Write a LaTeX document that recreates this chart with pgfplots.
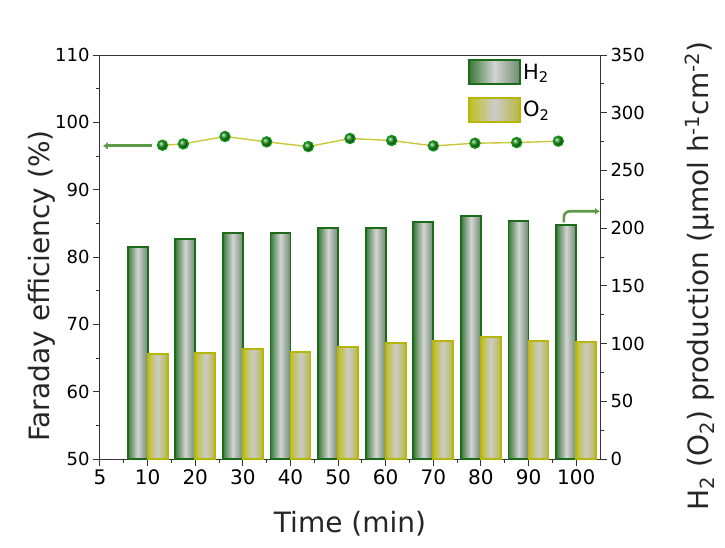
\documentclass[border=0pt]{standalone}
\usepackage{fontspec}
\setmainfont{DejaVu Sans}
\usepackage{pgfplots}
\usepackage{pgfplotstable}
\pgfplotsset{compat=1.18}
\usetikzlibrary{arrows.meta}

\definecolor{hedge}{HTML}{1B6B1B}
\definecolor{hleft}{HTML}{3A7A3A}
\definecolor{hmid}{HTML}{D4D4D4}
\definecolor{hright}{HTML}{6E8A6E}
\definecolor{oedge}{HTML}{B5B50C}
\definecolor{oleft}{HTML}{C0C020}
\definecolor{omid}{HTML}{CBCBCB}
\definecolor{oright}{HTML}{B8B840}
\definecolor{feline}{HTML}{C8C83A}
\definecolor{ballgreen}{HTML}{17901A}
\definecolor{arrowgreen}{HTML}{5E9A4A}
\definecolor{axisgray}{HTML}{333333}

% Faraday efficiency (%) against time (min)
\pgfplotstableread{
t   FE
5   96.6
10  96.8
20  97.9
30  97.1
40  96.4
50  97.6
60  97.3
70  96.5
80  96.9
90  97.0
100 97.2
}\fetable

\pgfplotsset{
  /pgf/number format/assume math mode=true,
  common/.style={
    scale only axis, width=500pt, height=404pt,
    tick align=outside,
    major tick length=7pt, minor tick length=4pt,
    axis line style={line width=1pt, axisgray},
    every tick/.style={line width=1pt, axisgray},
    label style={font=\fontsize{28}{31}\selectfont, text=black!85},
  },
  boxlegend/.style={
    legend image code/.code={\draw[##1] (0pt,-12pt) rectangle (51pt,12pt);}
  },
  % each bar is its own plot so that every bar carries its own shading
  hbar/.style={ybar, bar width=20pt, bar shift=-10pt, draw=hedge, line width=1.8pt,
    left color=hleft, right color=hright, middle color=hmid},
  obar/.style={ybar, bar width=20pt, bar shift=10pt, draw=oedge, line width=1.8pt,
    left color=oleft, right color=oright, middle color=omid},
}

\begin{document}
\begin{tikzpicture}
% Faraday efficiency, left axis
\begin{axis}[common, name=fe,
  xmin=-10, xmax=110, ymin=50, ymax=110,
  axis y line*=left, axis x line*=top,
  xtick=\empty,
  ytick={50,60,...,110}, minor y tick num=1,
  yticklabel style={font=\fontsize{18}{20}\selectfont},
  ylabel={Faraday efficiency (\%)},
  ylabel style={yshift=-7pt, xshift=-29pt},
]
\addplot[feline, line width=1.4pt, mark=ball, mark size=5pt,
  mark options={ball color=ballgreen, color=ballgreen}] table[x=t, y=FE] {\fetable};
\draw[arrowgreen, line width=3pt, -{Latex[length=5pt,width=8pt]}]
  (axis cs:2.6,96.5) -- (axis cs:-9.3,96.5);
\end{axis}
% H2 / O2 production, right axis; x positions 1..10 stand for 10..100 min
\begin{axis}[common, name=prod,
  xmin=0, xmax=10.5, ymin=0, ymax=350,
  axis y line*=right, axis x line*=bottom,
  xtick={0,...,10}, xticklabels={5,10,20,30,40,50,60,70,80,90,100},
  minor x tick num=1,
  ytick={0,50,...,350}, minor y tick num=1,
  xticklabel style={font=\fontsize{20}{22}\selectfont},
  yticklabel style={font=\fontsize{18}{20}\selectfont},
  xlabel={Time (min)},
  xlabel style={yshift=-20pt},
  ylabel={H\textsubscript{2} (O\textsubscript{2}) production (μmol h\textsuperscript{-1}cm\textsuperscript{-2})},
  ylabel style={yshift=-33pt, xshift=-19pt},
  legend style={at={(0.73,0.995)}, anchor=north west, draw=none, fill=none,
    font=\fontsize{21}{24}\selectfont, row sep=12pt,
    /tikz/every even column/.append style={column sep=4pt}},
  legend cell align=left,
]
\addplot[hbar, boxlegend] coordinates {(1,184.0)};
\addlegendentry{H\textsubscript{2}}
\addplot[obar, boxlegend] coordinates {(1,90.7)};
\addlegendentry{O\textsubscript{2}}
\addplot[hbar, forget plot] coordinates {(2,190.5)};
\addplot[hbar, forget plot] coordinates {(3,195.5)};
\addplot[hbar, forget plot] coordinates {(4,195.8)};
\addplot[hbar, forget plot] coordinates {(5,199.8)};
\addplot[hbar, forget plot] coordinates {(6,200.4)};
\addplot[hbar, forget plot] coordinates {(7,205.6)};
\addplot[hbar, forget plot] coordinates {(8,210.5)};
\addplot[hbar, forget plot] coordinates {(9,206.5)};
\addplot[hbar, forget plot] coordinates {(10,203.0)};
\addplot[obar, forget plot] coordinates {(2,91.5)};
\addplot[obar, forget plot] coordinates {(3,95.0)};
\addplot[obar, forget plot] coordinates {(4,93.0)};
\addplot[obar, forget plot] coordinates {(5,96.8)};
\addplot[obar, forget plot] coordinates {(6,100.2)};
\addplot[obar, forget plot] coordinates {(7,102.2)};
\addplot[obar, forget plot] coordinates {(8,106.0)};
\addplot[obar, forget plot] coordinates {(9,102.5)};
\addplot[obar, forget plot] coordinates {(10,101.1)};
\draw[arrowgreen, line width=2.6pt, rounded corners=6pt, -{Latex[length=5pt,width=7pt]}]
  (axis cs:9.74,205) |- (axis cs:10.5,214.6);
\end{axis}
\path (fe.south west) ++(-100pt,-88pt) rectangle ++(725pt,547pt);
\end{tikzpicture}
\end{document}
